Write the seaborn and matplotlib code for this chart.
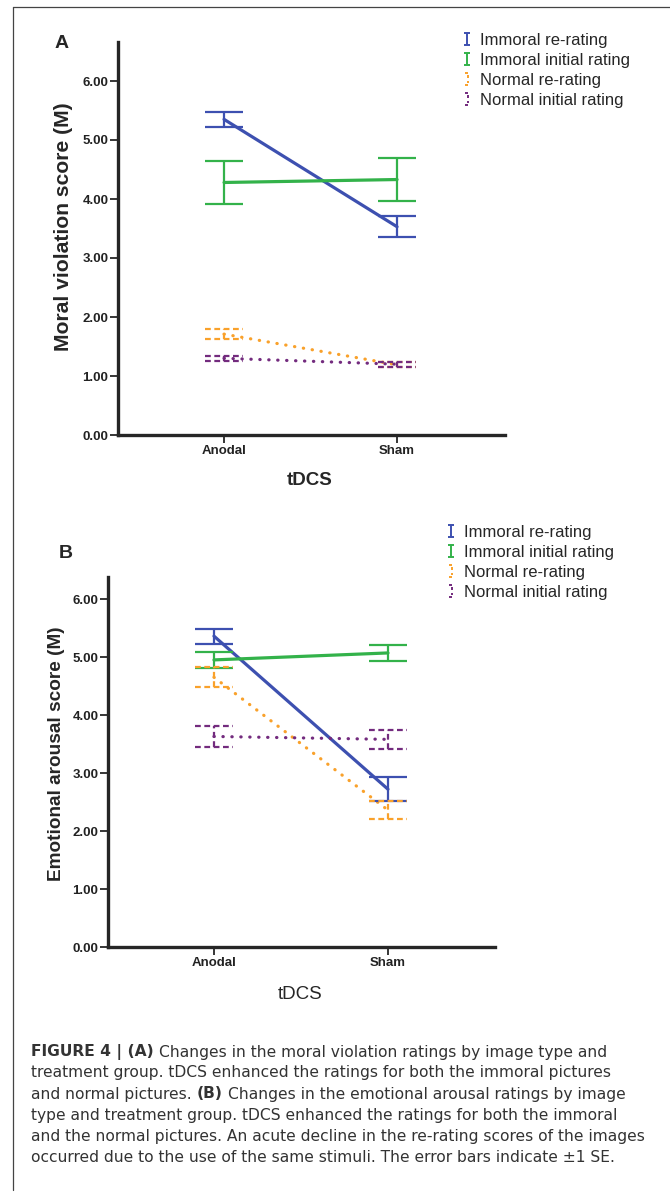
import matplotlib
matplotlib.use("Agg")
import matplotlib.pyplot as plt
import seaborn as sns
import pandas as pd
from matplotlib.lines import Line2D
from matplotlib.path import Path
from matplotlib.ticker import FormatStrFormatter

groups = ["Anodal", "Sham"]
conditions = ["Immoral re-rating", "Immoral initial rating",
              "Normal re-rating", "Normal initial rating"]

# panel A: moral violation score, mean and SE (Anodal, Sham)
moral_imm_re = [5.35, 3.53]
moral_imm_re_se = [0.13, 0.18]
moral_imm_init = [4.28, 4.33]
moral_imm_init_se = [0.36, 0.36]
moral_norm_re = [1.71, 1.19]
moral_norm_re_se = [0.09, 0.04]
moral_norm_init = [1.30, 1.20]
moral_norm_init_se = [0.04, 0.04]

# panel B: emotional arousal score, mean and SE (Anodal, Sham)
arousal_imm_re = [5.36, 2.72]
arousal_imm_re_se = [0.13, 0.21]
arousal_imm_init = [4.95, 5.07]
arousal_imm_init_se = [0.135, 0.135]
arousal_norm_re = [4.65, 2.36]
arousal_norm_re_se = [0.17, 0.15]
arousal_norm_init = [3.63, 3.58]
arousal_norm_init_se = [0.175, 0.165]

colors = {"Immoral re-rating": "#3d50b0",
          "Immoral initial rating": "#33b24a",
          "Normal re-rating": "#f9a12b",
          "Normal initial rating": "#732b7e"}
dashes = {"Immoral re-rating": "", "Immoral initial rating": "",
          "Normal re-rating": (0.1, 2.7), "Normal initial rating": (0.1, 2.7)}

sns.set_style("ticks")
plt.rcParams["font.family"] = ["Liberation Sans", "DejaVu Sans"]

W, H = 670, 1192
fig = plt.figure(figsize=(W / 100, H / 100), dpi=100)

# legend glyphs: a small I-beam and a broken bracket
MV, LT = Path.MOVETO, Path.LINETO
ibeam = Path([(-0.22, 0.5), (0.22, 0.5), (0, 0.5), (0, -0.5), (-0.22, -0.5), (0.22, -0.5)],
             [MV, LT, MV, LT, MV, LT])
bracket = Path([(-0.2, 0.5), (0.1, 0.5), (0.1, 0.28), (0.1, 0.06), (0.1, -0.12), (0.1, -0.32),
                (-0.2, -0.5), (0.1, -0.5)],
               [MV, LT, MV, LT, MV, LT, MV, LT])


def fig_box(left, top, right, bottom):
    return [left / W, 1 - bottom / H, (right - left) / W, (bottom - top) / H]


def draw_panel(ax, means, ses, ylabel, ylab_fs, ymax, xlim, xlab_pos, ylab_pos, xlab_bold):
    pos = list(range(len(groups)))
    rows = []
    for cond, m in zip(conditions, means):
        for p, v in zip(pos, m):
            rows.append({"tDCS": p, "score": v, "condition": cond})
    df = pd.DataFrame(rows)
    sns.lineplot(data=df, x="tDCS", y="score", hue="condition", style="condition",
                 palette=colors, dashes=dashes, linewidth=2.3, legend=False,
                 ax=ax, sort=False)
    for ln in ax.lines:
        ln.set_dash_capstyle("round")

    cap = 0.11
    for cond, m, s in zip(conditions, means, ses):
        lo = [a - b for a, b in zip(m, s)]
        hi = [a + b for a, b in zip(m, s)]
        ls = "-" if cond.startswith("Immoral") else (0, (2.6, 1.6))
        c = colors[cond]
        ax.vlines(pos, lo, hi, colors=c, linewidth=1.6, linestyles=ls)
        ax.hlines(lo, [p - cap for p in pos], [p + cap for p in pos],
                  colors=c, linewidth=1.6, linestyles=ls)
        ax.hlines(hi, [p - cap for p in pos], [p + cap for p in pos],
                  colors=c, linewidth=1.6, linestyles=ls)

    ax.set_xlim(*xlim)
    ax.set_ylim(0, ymax)
    ax.set_yticks(range(0, 7))
    ax.yaxis.set_major_formatter(FormatStrFormatter("%.2f"))
    ax.set_xticks(pos, groups)
    sns.despine(ax=ax)
    for sp in ["left", "bottom"]:
        ax.spines[sp].set_linewidth(2.4)
    ax.tick_params(direction="out", length=6, width=1.1, pad=1, colors="black")
    for t in ax.get_xticklabels() + ax.get_yticklabels():
        t.set_fontweight("bold")
        t.set_fontsize(9.5)
        t.set_color("#222222")
    ax.set_ylabel(ylabel, fontsize=ylab_fs, fontweight="bold")
    ax.yaxis.set_label_coords(*ylab_pos)
    ax.set_xlabel("tDCS", fontsize=13.5, fontweight="bold" if xlab_bold else "normal")
    ax.xaxis.set_label_coords(*xlab_pos)
    ax.patch.set_alpha(0)


def draw_legend(ax, x, y):
    handles = []
    for cond in conditions:
        mk = ibeam if cond.startswith("Immoral") else bracket
        handles.append(Line2D([], [], linestyle="none", marker=mk, markersize=9,
                              color=colors[cond], markeredgewidth=1.4))
    ax.legend(handles, conditions, loc="upper left", bbox_to_anchor=(x / W, 1 - y / H),
              bbox_transform=fig.transFigure, frameon=False, fontsize=12,
              handlelength=0.8, handletextpad=0.4, labelspacing=0.29, borderpad=0,
              borderaxespad=0)


# panel A
axA = fig.add_axes(fig_box(118, 42, 505, 435))
draw_panel(axA,
           [moral_imm_re, moral_imm_init, moral_norm_re, moral_norm_init],
           [moral_imm_re_se, moral_imm_init_se, moral_norm_re_se, moral_norm_init_se],
           "Moral violation score (M)", 15.2, (435 - 42) / 59, (-0.613, 1.624),
           (0.496, -0.095), (-0.115, 0.53), True)
draw_legend(axA, 460, 33)
fig.text(62 / W, 1 - 43 / H, "A", fontsize=14, fontweight="bold", ha="center", va="center")

# panel B
axB = fig.add_axes(fig_box(108, 577, 495, 947))
draw_panel(axB,
           [arousal_imm_re, arousal_imm_init, arousal_norm_re, arousal_norm_init],
           [arousal_imm_re_se, arousal_imm_init_se, arousal_norm_re_se, arousal_norm_init_se],
           "Emotional arousal score (M)", 13.7, (947 - 577) / 58, (-0.609, 1.615),
           (0.496, -0.105), (-0.112, 0.523), False)
draw_legend(axB, 444, 525)
fig.text(66 / W, 1 - 553 / H, "B", fontsize=14, fontweight="bold", ha="center", va="center")

# frame lines
fig.add_artist(Line2D([13 / W, 13 / W], [1 - 7 / H, 1 - 1190 / H],
                      transform=fig.transFigure, color="#444444", linewidth=0.9))
fig.add_artist(Line2D([13 / W, 1.0], [1 - 7 / H, 1 - 7 / H],
                      transform=fig.transFigure, color="#444444", linewidth=0.9))

# caption
caption = [
    [("FIGURE 4 | (A)", "bold"), ("Changes in the moral violation ratings by image type and", "normal")],
    [("treatment group. tDCS enhanced the ratings for both the immoral pictures", "normal")],
    [("and normal pictures.", "normal"), ("(B)", "bold"), ("Changes in the emotional arousal ratings by image", "normal")],
    [("type and treatment group. tDCS enhanced the ratings for both the immoral", "normal")],
    [("and the normal pictures. An acute decline in the re-rating scores of the images", "normal")],
    [("occurred due to the use of the same stimuli. The error bars indicate \u00b11 SE.", "normal")],
]
cap_fs = 11.2
cap_font = ["DejaVu Sans"]
cap_y = [1052, 1073, 1094, 1115.5, 1137, 1158]
renderer = fig.canvas.get_renderer()
space = cap_fs * 100 / 72 * 0.318
for y, segs in zip(cap_y, caption):
    x = 31
    for txt, wt in segs:
        t = fig.text(x / W, 1 - y / H, txt, fontsize=cap_fs, fontweight=wt,
                     family=cap_font, color="#333333", ha="left", va="center")
        bb = t.get_window_extent(renderer=renderer)
        x = bb.x1 + space

fig.savefig("out.png", dpi=100)
